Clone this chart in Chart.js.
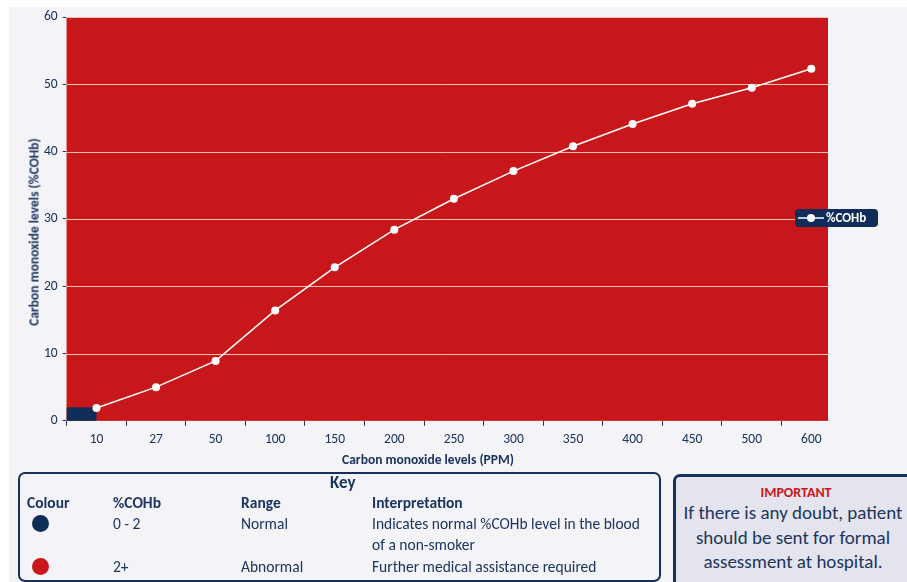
<!DOCTYPE html>
<html>
<head>
<meta charset="utf-8">
<script src="https://cdn.jsdelivr.net/npm/chart.js@4/dist/chart.umd.min.js"></script>
<style>
  body { margin: 0; background: #fff; font-family: Carlito, Calibri, Lato, sans-serif; color: #1c3560; }
  #panel { position: absolute; left: 9px; top: 7px; width: 898px; height: 575px; background: #f3f3f8; }
  #wrap { position: absolute; left: 0; top: 0; width: 907px; height: 478px; }
  .atitle { position: absolute; font-weight: bold; font-size: 13.5px; white-space: nowrap; color: #1c3560; }
  #ytitle { left: 34px; top: 232px; transform: translate(-50%, -50%) rotate(-90deg); }
  #xtitle { left: 428px; top: 459px; transform: translate(-50%, -50%); }
  #legend { position: absolute; left: 795px; top: 209px; width: 83px; height: 18px; background: #0f2d58;
    border-radius: 4px; color: #fff; font-weight: bold; font-size: 13px; line-height: 18px; }
  #legend svg { position: absolute; left: 3px; top: 4px; }
  #legend span { position: absolute; left: 31px; top: 0; }
  #key { position: absolute; left: 18px; top: 472px; width: 639px; height: 106px; border: 2.5px solid #163259;
    border-radius: 7px; font-size: 15.5px; }
  #key div { position: absolute; white-space: nowrap; }
  .b { font-weight: bold; }
  .dot { width: 17px; height: 17px; border-radius: 50%; }
  #imp { position: absolute; left: 673px; top: 474px; width: 240px; height: 112px; border: 3px solid #163259;
    border-radius: 7px; background: #e4e4ee; text-align: center; }
  #imp .t { color: #c8171a; font-weight: bold; font-size: 14px; margin-top: 7px; }
  #imp .m { font-size: 19px; line-height: 24.5px; margin-top: 0; padding-right: 6px; }
</style>
</head>
<body>
<div id="panel"></div>
<div id="wrap"><canvas id="myChart" width="907" height="478"></canvas></div>
<div class="atitle" id="ytitle">Carbon monoxide levels (%COHb)</div>
<div class="atitle" id="xtitle">Carbon monoxide levels (PPM)</div>
<div id="legend">
  <svg width="26" height="10"><line x1="0" y1="5" x2="26" y2="5" stroke="#fff" stroke-width="1.5"/><circle cx="13" cy="5" r="4" fill="#fff"/></svg>
  <span>%COHb</span>
</div>
<div id="key">
  <div class="b" style="left:310px;top:-2px;font-size:17px">Key</div>
  <div class="b" style="left:7px;top:19px">Colour</div>
  <div class="b" style="left:93px;top:19px">%COHb</div>
  <div class="b" style="left:221px;top:19px">Range</div>
  <div class="b" style="left:352px;top:19px">Interpretation</div>
  <div class="dot" style="left:12px;top:41px;background:#0f2d58"></div>
  <div style="left:93px;top:40px">0 - 2</div>
  <div style="left:221px;top:40px">Normal</div>
  <div style="left:352px;top:40px">Indicates normal %COHb level in the blood</div>
  <div style="left:352px;top:61px">of a non-smoker</div>
  <div class="dot" style="left:12px;top:84px;background:#c8171a"></div>
  <div style="left:93px;top:83px">2+</div>
  <div style="left:221px;top:83px">Abnormal</div>
  <div style="left:352px;top:83px">Further medical assistance required</div>
</div>
<div id="imp">
  <div class="t">IMPORTANT</div>
  <div class="m">If there is any doubt, patient<br>should be sent for formal<br>assessment at hospital.</div>
</div>
<script>
// carbon monoxide (ppm) vs %COHb
const ppmLabels = ['10', '27', '50', '100', '150', '200', '250', '300', '350', '400', '450', '500', '600'];
const cohbValues = [1.9, 5.0, 8.9, 16.4, 22.8, 28.4, 33.0, 37.1, 40.8, 44.1, 47.1, 49.5, 52.3];
const normalRange = [0, 2];
const yTicks = [0, 10, 20, 30, 40, 50, 60];

const navy = '#1c3560';
const font = 'Carlito, Calibri, Lato, sans-serif';

// red plot background + the navy "normal" band at the bottom left
const plotBg = {
  id: 'plotBg',
  beforeDatasetsDraw(chart) {
    const { ctx, chartArea, scales } = chart;
    ctx.save();
    ctx.fillStyle = '#c8171a';
    ctx.fillRect(chartArea.left, chartArea.top, chartArea.right - chartArea.left, chartArea.bottom - chartArea.top);
    ctx.strokeStyle = 'rgba(255,225,205,0.85)';
    ctx.lineWidth = 1;
    yTicks.forEach(v => {
      if (v === 0) return;
      const y = Math.round(scales.y.getPixelForValue(v)) + 0.5;
      ctx.beginPath();
      ctx.moveTo(chartArea.left, y);
      ctx.lineTo(chartArea.right, y);
      ctx.stroke();
    });
    ctx.fillStyle = '#0f2d58';
    const x1 = scales.x.getPixelForValue(0);
    const yTop = scales.y.getPixelForValue(normalRange[1]);
    const yBot = scales.y.getPixelForValue(normalRange[0]);
    ctx.fillRect(chartArea.left, yTop, x1 - chartArea.left, yBot - yTop);
    ctx.restore();
  }
};

const ctx = document.getElementById('myChart').getContext('2d');
const myChart = new Chart(ctx, {
  type: 'line',
  data: {
    datasets: [{
      label: '%COHb',
      data: cohbValues.map((v, i) => ({ x: i, y: v })),
      borderColor: '#fff',
      backgroundColor: '#fff',
      borderWidth: 1.5,
      pointRadius: 4,
      pointBorderWidth: 0,
      tension: 0
    }]
  },
  options: {
    responsive: false,
    animation: false,
    layout: { padding: { left: 39, top: 17, right: 79, bottom: 24 } },
    plugins: { legend: { display: false }, tooltip: { enabled: false } },
    scales: {
      x: {
        type: 'linear',
        min: -0.5,
        max: ppmLabels.length - 0.72,
        afterBuildTicks: axis => { axis.ticks = ppmLabels.map((l, i) => ({ value: i })); },
        grid: { offset: true, drawOnChartArea: false, tickColor: navy, tickLength: 5, color: navy },
        border: { color: '#f2b8a8' },
        ticks: { color: navy, font: { family: font, size: 13.5 }, padding: 6,
          callback: v => ppmLabels[v] }
      },
      y: {
        min: 0, max: 60,
        afterBuildTicks: axis => { axis.ticks = yTicks.map(v => ({ value: v })); },
        grid: { drawOnChartArea: false, tickColor: navy, tickLength: 4 },
        border: { color: '#f2c8c0' },
        ticks: { color: navy, font: { family: font, size: 13.5 }, padding: 5 }
      }
    }
  },
  plugins: [plotBg]
});
</script>
</body>
</html>
